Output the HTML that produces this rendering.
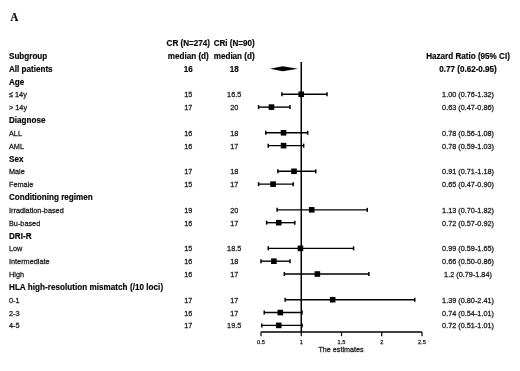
<!DOCTYPE html>
<html><head><meta charset="utf-8"><style>
html,body{margin:0;padding:0;background:#fff;width:520px;height:371px;overflow:hidden}
svg{display:block;filter:blur(0.3px)}
text{font-family:"Liberation Sans",sans-serif;fill:#111;stroke:#222;stroke-width:0.25px}
.b{font-weight:bold;font-size:8.1px;fill:#000;stroke-width:0.2px}
.r{font-size:7.3px}
.t{font-size:5.6px}
</style></head><body>
<svg width="520" height="371" viewBox="0 0 520 371">
<text transform="translate(10.6 20.5) scale(0.91 1)" style="font-family:'Liberation Serif',serif;font-weight:bold;font-size:11.7px;fill:#000">A</text>
<text transform="translate(188.30 46.16) scale(1 1.08)" class="b" text-anchor="middle">CR (N=274)</text>
<text transform="translate(234.20 46.16) scale(1 1.08)" class="b" text-anchor="middle">CRi (N=90)</text>
<text transform="translate(9.00 59.00) scale(1 1.08)" class="b">Subgroup</text>
<text transform="translate(188.30 59.00) scale(1 1.08)" class="b" text-anchor="middle">median (d)</text>
<text transform="translate(234.20 59.00) scale(1 1.08)" class="b" text-anchor="middle">median (d)</text>
<text transform="translate(468.00 59.00) scale(1 1.08)" class="b" text-anchor="middle">Hazard Ratio (95% CI)</text>
<text transform="translate(9.00 71.84) scale(1 1.08)" class="b">All patients</text>
<text transform="translate(188.30 71.84) scale(1 1.08)" class="b" text-anchor="middle">16</text>
<text transform="translate(234.20 71.84) scale(1 1.08)" class="b" text-anchor="middle">18</text>
<text transform="translate(468.00 71.84) scale(1 1.08)" class="b" text-anchor="middle">0.77 (0.62-0.95)</text>
<polygon points="269.96,68.64 282.74,66.14 297.93,68.64 282.74,71.14" fill="#000"/>
<text transform="translate(9.00 84.68) scale(1 1.08)" class="b">Age</text>
<text transform="translate(9.00 97.32) scale(1 1.07)" class="r">≤ 14y</text>
<text transform="translate(188.30 97.32) scale(1 1.07)" class="r" text-anchor="middle">15</text>
<text transform="translate(234.20 97.32) scale(1 1.07)" class="r" text-anchor="middle">16.5</text>
<text transform="translate(468.00 97.32) scale(1 1.07)" class="r" text-anchor="middle">1.00 (0.76-1.32)</text>
<line x1="281.93" y1="94.27" x2="327.01" y2="94.27" stroke="#000" stroke-width="1.4"/>
<line x1="281.93" y1="92.27" x2="281.93" y2="96.27" stroke="#000" stroke-width="1.5"/>
<line x1="327.01" y1="92.27" x2="327.01" y2="96.27" stroke="#000" stroke-width="1.5"/>
<rect x="298.45" y="91.47" width="5.6" height="5.6" fill="#000"/>
<text transform="translate(9.00 110.16) scale(1 1.07)" class="r">&gt; 14y</text>
<text transform="translate(188.30 110.16) scale(1 1.07)" class="r" text-anchor="middle">17</text>
<text transform="translate(234.20 110.16) scale(1 1.07)" class="r" text-anchor="middle">20</text>
<text transform="translate(468.00 110.16) scale(1 1.07)" class="r" text-anchor="middle">0.63 (0.47-0.86)</text>
<line x1="258.58" y1="107.11" x2="289.98" y2="107.11" stroke="#000" stroke-width="1.4"/>
<line x1="258.58" y1="105.11" x2="258.58" y2="109.11" stroke="#000" stroke-width="1.5"/>
<line x1="289.98" y1="105.11" x2="289.98" y2="109.11" stroke="#000" stroke-width="1.5"/>
<rect x="268.66" y="104.31" width="5.6" height="5.6" fill="#000"/>
<text transform="translate(9.00 123.20) scale(1 1.08)" class="b">Diagnose</text>
<text transform="translate(9.00 135.84) scale(1 1.07)" class="r">ALL</text>
<text transform="translate(188.30 135.84) scale(1 1.07)" class="r" text-anchor="middle">16</text>
<text transform="translate(234.20 135.84) scale(1 1.07)" class="r" text-anchor="middle">18</text>
<text transform="translate(468.00 135.84) scale(1 1.07)" class="r" text-anchor="middle">0.78 (0.56-1.08)</text>
<line x1="265.83" y1="132.79" x2="307.69" y2="132.79" stroke="#000" stroke-width="1.4"/>
<line x1="265.83" y1="130.79" x2="265.83" y2="134.79" stroke="#000" stroke-width="1.5"/>
<line x1="307.69" y1="130.79" x2="307.69" y2="134.79" stroke="#000" stroke-width="1.5"/>
<rect x="280.74" y="129.99" width="5.6" height="5.6" fill="#000"/>
<text transform="translate(9.00 148.68) scale(1 1.07)" class="r">AML</text>
<text transform="translate(188.30 148.68) scale(1 1.07)" class="r" text-anchor="middle">16</text>
<text transform="translate(234.20 148.68) scale(1 1.07)" class="r" text-anchor="middle">17</text>
<text transform="translate(468.00 148.68) scale(1 1.07)" class="r" text-anchor="middle">0.78 (0.59-1.03)</text>
<line x1="268.25" y1="145.63" x2="303.67" y2="145.63" stroke="#000" stroke-width="1.4"/>
<line x1="268.25" y1="143.63" x2="268.25" y2="147.63" stroke="#000" stroke-width="1.5"/>
<line x1="303.67" y1="143.63" x2="303.67" y2="147.63" stroke="#000" stroke-width="1.5"/>
<rect x="280.74" y="142.83" width="5.6" height="5.6" fill="#000"/>
<text transform="translate(9.00 161.72) scale(1 1.08)" class="b">Sex</text>
<text transform="translate(9.00 174.36) scale(1 1.07)" class="r">Male</text>
<text transform="translate(188.30 174.36) scale(1 1.07)" class="r" text-anchor="middle">17</text>
<text transform="translate(234.20 174.36) scale(1 1.07)" class="r" text-anchor="middle">18</text>
<text transform="translate(468.00 174.36) scale(1 1.07)" class="r" text-anchor="middle">0.91 (0.71-1.18)</text>
<line x1="277.90" y1="171.31" x2="315.74" y2="171.31" stroke="#000" stroke-width="1.4"/>
<line x1="277.90" y1="169.31" x2="277.90" y2="173.31" stroke="#000" stroke-width="1.5"/>
<line x1="315.74" y1="169.31" x2="315.74" y2="173.31" stroke="#000" stroke-width="1.5"/>
<rect x="291.20" y="168.51" width="5.6" height="5.6" fill="#000"/>
<text transform="translate(9.00 187.20) scale(1 1.07)" class="r">Female</text>
<text transform="translate(188.30 187.20) scale(1 1.07)" class="r" text-anchor="middle">15</text>
<text transform="translate(234.20 187.20) scale(1 1.07)" class="r" text-anchor="middle">17</text>
<text transform="translate(468.00 187.20) scale(1 1.07)" class="r" text-anchor="middle">0.65 (0.47-0.90)</text>
<line x1="258.58" y1="184.15" x2="293.20" y2="184.15" stroke="#000" stroke-width="1.4"/>
<line x1="258.58" y1="182.15" x2="258.58" y2="186.15" stroke="#000" stroke-width="1.5"/>
<line x1="293.20" y1="182.15" x2="293.20" y2="186.15" stroke="#000" stroke-width="1.5"/>
<rect x="270.27" y="181.35" width="5.6" height="5.6" fill="#000"/>
<text transform="translate(9.00 200.24) scale(1 1.08)" class="b">Conditioning regimen</text>
<text transform="translate(9.00 212.88) scale(1 1.07)" class="r">Irradiation-based</text>
<text transform="translate(188.30 212.88) scale(1 1.07)" class="r" text-anchor="middle">19</text>
<text transform="translate(234.20 212.88) scale(1 1.07)" class="r" text-anchor="middle">20</text>
<text transform="translate(468.00 212.88) scale(1 1.07)" class="r" text-anchor="middle">1.13 (0.70-1.82)</text>
<line x1="277.10" y1="209.83" x2="367.26" y2="209.83" stroke="#000" stroke-width="1.4"/>
<line x1="277.10" y1="207.83" x2="277.10" y2="211.83" stroke="#000" stroke-width="1.5"/>
<line x1="367.26" y1="207.83" x2="367.26" y2="211.83" stroke="#000" stroke-width="1.5"/>
<rect x="308.91" y="207.03" width="5.6" height="5.6" fill="#000"/>
<text transform="translate(9.00 225.72) scale(1 1.07)" class="r">Bu-based</text>
<text transform="translate(188.30 225.72) scale(1 1.07)" class="r" text-anchor="middle">16</text>
<text transform="translate(234.20 225.72) scale(1 1.07)" class="r" text-anchor="middle">17</text>
<text transform="translate(468.00 225.72) scale(1 1.07)" class="r" text-anchor="middle">0.72 (0.57-0.92)</text>
<line x1="266.63" y1="222.67" x2="294.81" y2="222.67" stroke="#000" stroke-width="1.4"/>
<line x1="266.63" y1="220.67" x2="266.63" y2="224.67" stroke="#000" stroke-width="1.5"/>
<line x1="294.81" y1="220.67" x2="294.81" y2="224.67" stroke="#000" stroke-width="1.5"/>
<rect x="275.91" y="219.87" width="5.6" height="5.6" fill="#000"/>
<text transform="translate(9.00 238.76) scale(1 1.08)" class="b">DRI-R</text>
<text transform="translate(9.00 251.40) scale(1 1.07)" class="r">Low</text>
<text transform="translate(188.30 251.40) scale(1 1.07)" class="r" text-anchor="middle">15</text>
<text transform="translate(234.20 251.40) scale(1 1.07)" class="r" text-anchor="middle">18.5</text>
<text transform="translate(468.00 251.40) scale(1 1.07)" class="r" text-anchor="middle">0.99 (0.59-1.65)</text>
<line x1="268.25" y1="248.35" x2="353.57" y2="248.35" stroke="#000" stroke-width="1.4"/>
<line x1="268.25" y1="246.35" x2="268.25" y2="250.35" stroke="#000" stroke-width="1.5"/>
<line x1="353.57" y1="246.35" x2="353.57" y2="250.35" stroke="#000" stroke-width="1.5"/>
<rect x="297.64" y="245.55" width="5.6" height="5.6" fill="#000"/>
<text transform="translate(9.00 264.24) scale(1 1.07)" class="r">Intermediate</text>
<text transform="translate(188.30 264.24) scale(1 1.07)" class="r" text-anchor="middle">16</text>
<text transform="translate(234.20 264.24) scale(1 1.07)" class="r" text-anchor="middle">18</text>
<text transform="translate(468.00 264.24) scale(1 1.07)" class="r" text-anchor="middle">0.66 (0.50-0.86)</text>
<line x1="261.00" y1="261.19" x2="289.98" y2="261.19" stroke="#000" stroke-width="1.4"/>
<line x1="261.00" y1="259.19" x2="261.00" y2="263.19" stroke="#000" stroke-width="1.5"/>
<line x1="289.98" y1="259.19" x2="289.98" y2="263.19" stroke="#000" stroke-width="1.5"/>
<rect x="271.08" y="258.39" width="5.6" height="5.6" fill="#000"/>
<text transform="translate(9.00 277.08) scale(1 1.07)" class="r">High</text>
<text transform="translate(188.30 277.08) scale(1 1.07)" class="r" text-anchor="middle">16</text>
<text transform="translate(234.20 277.08) scale(1 1.07)" class="r" text-anchor="middle">17</text>
<text transform="translate(468.00 277.08) scale(1 1.07)" class="r" text-anchor="middle">1.2 (0.79-1.84)</text>
<line x1="284.35" y1="274.03" x2="368.87" y2="274.03" stroke="#000" stroke-width="1.4"/>
<line x1="284.35" y1="272.03" x2="284.35" y2="276.03" stroke="#000" stroke-width="1.5"/>
<line x1="368.87" y1="272.03" x2="368.87" y2="276.03" stroke="#000" stroke-width="1.5"/>
<rect x="314.55" y="271.23" width="5.6" height="5.6" fill="#000"/>
<text transform="translate(9.00 290.12) scale(1 1.08)" class="b" style="letter-spacing:0.04px">HLA high-resolution mismatch (/10 loci)</text>
<text transform="translate(9.00 302.76) scale(1 1.07)" class="r">0-1</text>
<text transform="translate(188.30 302.76) scale(1 1.07)" class="r" text-anchor="middle">17</text>
<text transform="translate(234.20 302.76) scale(1 1.07)" class="r" text-anchor="middle">17</text>
<text transform="translate(468.00 302.76) scale(1 1.07)" class="r" text-anchor="middle">1.39 (0.80-2.41)</text>
<line x1="285.15" y1="299.71" x2="414.75" y2="299.71" stroke="#000" stroke-width="1.4"/>
<line x1="285.15" y1="297.71" x2="285.15" y2="301.71" stroke="#000" stroke-width="1.5"/>
<line x1="414.75" y1="297.71" x2="414.75" y2="301.71" stroke="#000" stroke-width="1.5"/>
<rect x="329.84" y="296.91" width="5.6" height="5.6" fill="#000"/>
<text transform="translate(9.00 315.60) scale(1 1.07)" class="r">2-3</text>
<text transform="translate(188.30 315.60) scale(1 1.07)" class="r" text-anchor="middle">16</text>
<text transform="translate(234.20 315.60) scale(1 1.07)" class="r" text-anchor="middle">17</text>
<text transform="translate(468.00 315.60) scale(1 1.07)" class="r" text-anchor="middle">0.74 (0.54-1.01)</text>
<line x1="264.22" y1="312.55" x2="302.06" y2="312.55" stroke="#000" stroke-width="1.4"/>
<line x1="264.22" y1="310.55" x2="264.22" y2="314.55" stroke="#000" stroke-width="1.5"/>
<line x1="302.06" y1="310.55" x2="302.06" y2="314.55" stroke="#000" stroke-width="1.5"/>
<rect x="277.52" y="309.75" width="5.6" height="5.6" fill="#000"/>
<text transform="translate(9.00 328.44) scale(1 1.07)" class="r">4-5</text>
<text transform="translate(188.30 328.44) scale(1 1.07)" class="r" text-anchor="middle">17</text>
<text transform="translate(234.20 328.44) scale(1 1.07)" class="r" text-anchor="middle">19.5</text>
<text transform="translate(468.00 328.44) scale(1 1.07)" class="r" text-anchor="middle">0.72 (0.51-1.01)</text>
<line x1="261.81" y1="325.39" x2="302.06" y2="325.39" stroke="#000" stroke-width="1.4"/>
<line x1="261.81" y1="323.39" x2="261.81" y2="327.39" stroke="#000" stroke-width="1.5"/>
<line x1="302.06" y1="323.39" x2="302.06" y2="327.39" stroke="#000" stroke-width="1.5"/>
<rect x="275.91" y="322.59" width="5.6" height="5.6" fill="#000"/>
<line x1="301.25" y1="62" x2="301.25" y2="332" stroke="#000" stroke-width="1.5"/>
<line x1="261.00" y1="332" x2="422.00" y2="332" stroke="#000" stroke-width="1.3"/>
<line x1="261.00" y1="332" x2="261.00" y2="336.2" stroke="#000" stroke-width="1.2"/>
<text x="261.00" y="343.5" class="t" text-anchor="middle">0.5</text>
<line x1="301.25" y1="332" x2="301.25" y2="336.2" stroke="#000" stroke-width="1.2"/>
<text x="301.25" y="343.5" class="t" text-anchor="middle">1</text>
<line x1="341.50" y1="332" x2="341.50" y2="336.2" stroke="#000" stroke-width="1.2"/>
<text x="341.50" y="343.5" class="t" text-anchor="middle">1.5</text>
<line x1="381.75" y1="332" x2="381.75" y2="336.2" stroke="#000" stroke-width="1.2"/>
<text x="381.75" y="343.5" class="t" text-anchor="middle">2</text>
<line x1="422.00" y1="332" x2="422.00" y2="336.2" stroke="#000" stroke-width="1.2"/>
<text x="422.00" y="343.5" class="t" text-anchor="middle">2.5</text>
<text transform="translate(341.00 352.10) scale(1 1.07)" class="r" text-anchor="middle" style="font-size:7.2px">The estimates</text>
</svg>
</body></html>
